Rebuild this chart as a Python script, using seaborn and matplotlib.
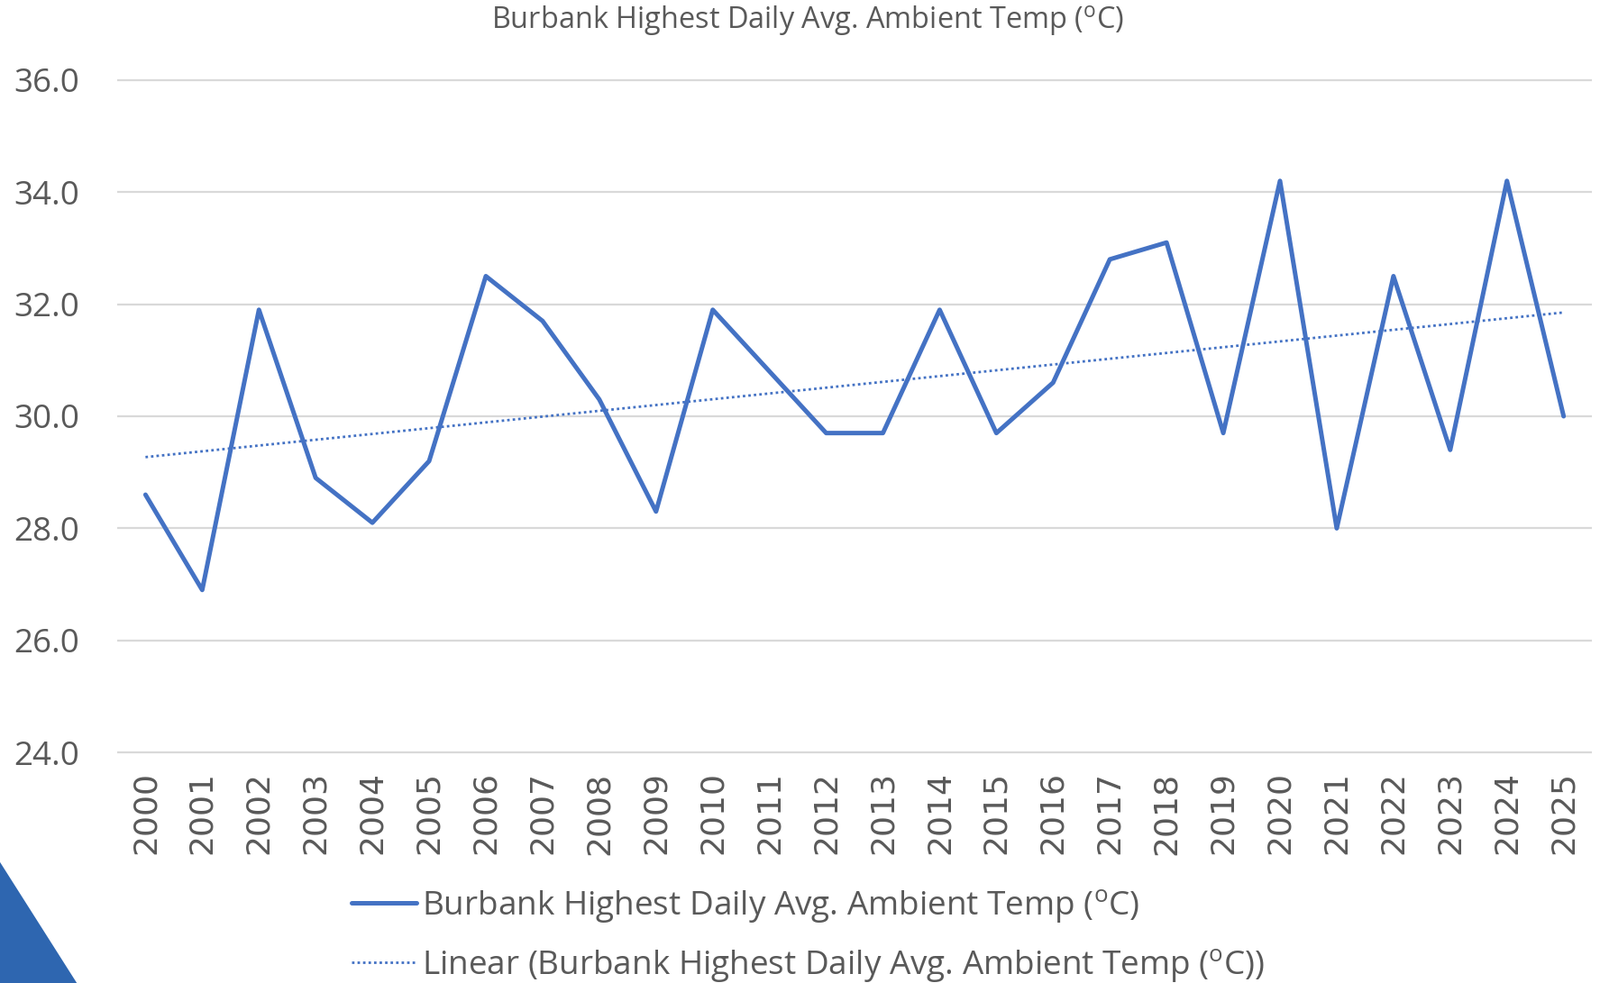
import matplotlib
matplotlib.use('Agg')
import matplotlib.pyplot as plt
import seaborn as sns
import pandas as pd
from matplotlib.patches import Polygon

# chart data
years = list(range(2000, 2026))
temps = [28.6, 26.9, 31.9, 28.9, 28.1, 29.2, 32.5, 31.7, 30.3, 28.3,
         31.9, 30.8, 29.7, 29.7, 31.9, 29.7, 30.6, 32.8, 33.1, 29.7,
         34.2, 28.0, 32.5, 29.4, 34.2, 30.0]
y_ticks = [24.0, 26.0, 28.0, 30.0, 32.0, 34.0, 36.0]

series_name = r'Burbank Highest Daily Avg. Ambient Temp ($\mathregular{^o}$C)'
trend_name = r'Linear (Burbank Highest Daily Avg. Ambient Temp ($\mathregular{^o}$C))'

df = pd.DataFrame({'year': years, 'temp': temps})

sns.set_style('white')
plt.rcParams['font.family'] = ['Open Sans', 'DejaVu Sans']
text_color = '#595959'
blue = '#4472C4'

fig = plt.figure(figsize=(17.75, 10.91), dpi=100)
ax = fig.add_axes([0.0732, 0.2328, 0.9218, 0.6875])

sns.lineplot(data=df, x='year', y='temp', ax=ax, color=blue, linewidth=3.6,
             label=series_name)
# linear trend line fitted by seaborn
sns.regplot(data=df, x='year', y='temp', ax=ax, scatter=False, ci=None,
            label=trend_name,
            line_kws=dict(color=blue, linewidth=2.0, linestyle=(0, (1, 1.2))))

ax.set_xlim(1999.5, 2025.5)
ax.set_ylim(23.97, 36.03)
ax.set_yticks(y_ticks)
ax.set_yticklabels([f'{v:.1f}' for v in y_ticks], fontsize=26.5, color=text_color)
ax.set_xticks(years)
ax.set_xticklabels([str(y) for y in years], rotation=90, fontsize=26,
                   color=text_color, family='DejaVu Sans')
ax.tick_params(axis='y', length=0, pad=30)
ax.tick_params(axis='x', length=0, pad=14)
ax.set_xlabel('')
ax.set_ylabel('')
ax.grid(axis='y', color='#D9D9D9', linewidth=1.6)
ax.grid(axis='x', visible=False)
sns.despine(ax=ax, left=True, bottom=True)

fig.text(0.505, 0.979, r'Burbank Highest Daily Avg. Ambient Temp ($\mathregular{^o}$C)',
         ha='center', va='center', fontsize=23.4, color=text_color)

ax.get_legend().remove()
handles, labels = ax.get_legend_handles_labels()
leg = fig.legend(handles, labels, loc='upper left', bbox_to_anchor=(0.2197, 0.097),
                 frameon=False, fontsize=26.6, handlelength=1.96, handletextpad=0.15,
                 labelspacing=0.66, borderpad=0, borderaxespad=0)
for t in leg.get_texts():
    t.set_color(text_color)

# decorative corner triangle
fig.patches.append(Polygon([[0, 0], [0.048, 0], [0, 0.123]], closed=True,
                           transform=fig.transFigure, facecolor='#2E66B0',
                           edgecolor='none'))

fig.savefig('out.png', dpi=100)
